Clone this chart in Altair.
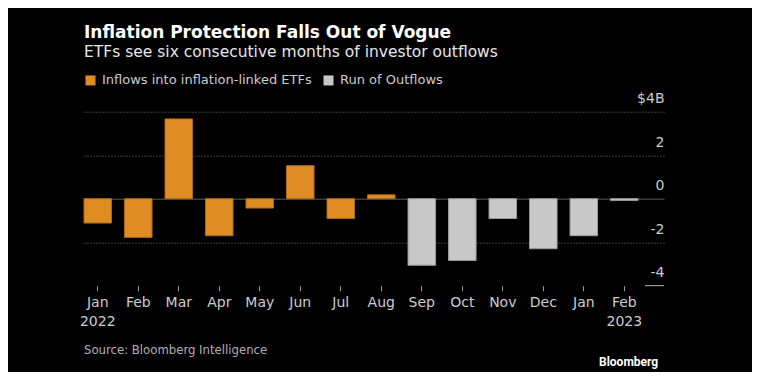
import altair as alt
import pandas as pd

# ---- data ----
months = ["Jan 2022", "Feb", "Mar", "Apr", "May", "Jun", "Jul", "Aug",
          "Sep", "Oct", "Nov", "Dec", "Jan", "Feb 2023"]
flows = [-1.12, -1.78, 3.67, -1.70, -0.43, 1.52, -0.91, 0.18,
         -3.06, -2.84, -0.91, -2.30, -1.70, -0.08]
series = ["Inflows into inflation-linked ETFs"] * 8 + ["Run of Outflows"] * 6
series_names = ["Inflows into inflation-linked ETFs", "Run of Outflows"]
series_colors = ["#E08C25", "#C8C8C8"]
series_strokes = ["#A9681B", "#9A9A9A"]
y_ticks = [-4, -2, 0, 2, 4]

title_text = "Inflation Protection Falls Out of Vogue"
subtitle_text = "ETFs see six consecutive months of investor outflows"
source_text = "Source: Bloomberg Intelligence"
brand_text = "Bloomberg"

df = pd.DataFrame({"month": months, "flow": flows, "series": series})

W, H = 580, 174

x_enc = alt.X(
    "month:N", sort=months, title=None,
    scale=alt.Scale(paddingInner=0.32, paddingOuter=0.32, align=0),
    axis=alt.Axis(
        domain=False, ticks=True, tickSize=5, tickColor="#9a9a9a", tickWidth=1,
        labelPadding=5, labelFontSize=14, labelColor="#cccccc", labelAngle=0,
        labelLineHeight=19, grid=False,
        labelExpr="indexof(datum.label, ' ') > 0 ? split(datum.label, ' ') : datum.label",
    ),
)
y_enc = alt.Y(
    "flow:Q", title=None,
    scale=alt.Scale(domain=[-4, 4], nice=False, zero=False),
    axis=alt.Axis(
        orient="right", values=y_ticks, domain=False, ticks=False, tickSize=0,
        labelPadding=0, labelAlign="right", labelBaseline="middle", labelOffset=-13,
        labelFontSize=14, labelColor="#cccccc",
        labelExpr="datum.value == 4 ? '$4B' : '' + datum.value",
        grid=True,
        gridDash=alt.condition("datum.value == 0", alt.value([]), alt.value([1, 2])),
        gridColor=alt.condition("datum.value == 0", alt.value("#5a5a5a"), alt.value("#777777")),
        gridOpacity=alt.condition("datum.value == -4", alt.value(0), alt.value(1)),
        gridWidth=1,
    ),
)

bars = alt.Chart(df).mark_bar(strokeWidth=1).encode(
    x=x_enc,
    y=y_enc,
    y2=alt.datum(0),
    color=alt.Color(
        "series:N", title=None,
        scale=alt.Scale(domain=series_names, range=series_colors),
        legend=alt.Legend(
            orient="none", legendX=0, legendY=-38, direction="horizontal",
            symbolType="square", symbolSize=100, symbolStrokeWidth=0,
            labelFontSize=13, labelColor="#cccccc", labelOffset=5,
            columnPadding=10, labelLimit=0,
        ),
    ),
    stroke=alt.Stroke(
        "series:N", scale=alt.Scale(domain=series_names, range=series_strokes), legend=None
    ),
)

edge = alt.Chart(pd.DataFrame({"v": [-4]})).mark_rule(color="#bbbbbb", strokeWidth=1).encode(
    x=alt.value(561), x2=alt.value(W), y=alt.Y("v:Q")
)

def label(text, x, y, size, color, weight="normal", font="DejaVu Sans", align="left"):
    return alt.Chart(pd.DataFrame({"t": [text]})).mark_text(
        align=align, baseline="alphabetic", fontSize=size, color=color,
        fontWeight=weight, font=font,
    ).encode(x=alt.value(x), y=alt.value(y), text="t:N")

title = label(title_text, 0, -74.2, 17, "#ffffff", weight="bold")
subtitle = label(subtitle_text, 0, -54.7, 15.5, "#e6e6e6")
source = label(source_text, 0, 241.8, 13, "#b0b0b0", font="DejaVu Sans Condensed")
brand = label(brand_text, 515, 254.3, 12, "#ffffff", weight="bold", font="Roboto")

chart = (
    alt.layer(bars, edge, title, subtitle, source, brand)
    .properties(
        width=W, height=H,
        autosize=alt.AutoSizeParams(type="none"),
        padding={"left": 76, "top": 103.7, "right": 88, "bottom": 86.3},
        background="#000000",
    )
    .configure(font="DejaVu Sans")
    .configure_view(strokeWidth=0, stroke="transparent")
)

chart.save("out.html", embed_options={"renderer": "svg", "actions": False})
